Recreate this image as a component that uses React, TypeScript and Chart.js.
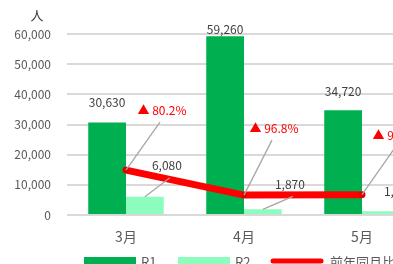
import React, { useEffect, useRef } from 'react';
import { Chart, registerables } from 'chart.js';

Chart.register(...registerables);

// ---- data ----
const categories = ['3月', '4月', '5月'];
const r1Values = [30630, 59260, 34720];
const r2Values = [6080, 1870, 1220];
const yoyValues = [-80.2, -96.8, -96.5];
const seriesLabels = ['R1', 'R2', '前年同月比'];
const yAxisTitle = '人';
const yMax = 60000;
const yStep = 10000;

// ---- style ----
const FONT = "'Noto Sans CJK JP', 'Noto Sans', sans-serif";
const C_R1 = '#00B050';
const C_R2 = '#8CFDBC';
const C_LINE = '#FF0000';
const C_TEXT = '#595959';
const C_LABEL = '#404040';
const C_GRID = '#D9D9D9';
const C_LEADER = '#A6A6A6';
const CANVAS_W = 440;
const CANVAS_H = 290;

// label offsets relative to the mark anchor (px)
const r1LabelOffsets = [[0, -20], [0, -7], [0, -19]];
const r2LabelOffsets = [[22, -31], [27, -25], [18, -20]];
const r2Leaders = [true, true, false];
const yoyLabelOffsets = [[36, -60], [30, -67], [35, -59]];

const fmt = (v: number) => v.toLocaleString('en-US');
const fmtYoy = (v: number) => (v < 0 ? '▲ ' : '') + Math.abs(v).toFixed(1) + '%';

const overlayPlugin = {
  id: 'overlay',
  afterDatasetsDraw(chart: any) {
    const ctx = chart.ctx as CanvasRenderingContext2D;
    const m0 = chart.getDatasetMeta(0);
    const m1 = chart.getDatasetMeta(1);
    const m2 = chart.getDatasetMeta(2);
    ctx.save();
    // leader lines
    ctx.strokeStyle = C_LEADER;
    ctx.lineWidth = 1.3;
    m1.data.forEach((el: any, i: number) => {
      if (!r2Leaders[i]) return;
      const [dx, dy] = r2LabelOffsets[i];
      ctx.beginPath();
      ctx.moveTo(el.x, el.y);
      ctx.lineTo(el.x + dx + 3, el.y + dy + 12);
      ctx.stroke();
    });
    m2.data.forEach((el: any, i: number) => {
      const [dx, dy] = yoyLabelOffsets[i];
      ctx.beginPath();
      ctx.moveTo(el.x, el.y);
      ctx.lineTo(el.x + dx - 2, el.y + dy + 12);
      ctx.stroke();
    });
    // value labels
    ctx.font = `12px ${FONT}`;
    ctx.textAlign = 'center';
    ctx.textBaseline = 'middle';
    ctx.fillStyle = C_LABEL;
    m0.data.forEach((el: any, i: number) => {
      const [dx, dy] = r1LabelOffsets[i];
      ctx.fillText(fmt(r1Values[i]), el.x + dx, el.y + dy);
    });
    m1.data.forEach((el: any, i: number) => {
      const [dx, dy] = r2LabelOffsets[i];
      ctx.fillText(fmt(r2Values[i]), el.x + dx, el.y + dy);
    });
    ctx.fillStyle = C_LINE;
    m2.data.forEach((el: any, i: number) => {
      const [dx, dy] = yoyLabelOffsets[i];
      ctx.fillText(fmtYoy(yoyValues[i]), el.x + dx, el.y + dy);
    });
    ctx.restore();
  },
  afterDraw(chart: any) {
    const ctx = chart.ctx as CanvasRenderingContext2D;
    const area = chart.chartArea;
    ctx.save();
    // axis title
    ctx.font = `13px ${FONT}`;
    ctx.fillStyle = C_LABEL;
    ctx.textAlign = 'center';
    ctx.textBaseline = 'middle';
    ctx.fillText(yAxisTitle, area.left - 30, area.top - 19);
    // legend
    const ly = area.bottom + 46;
    ctx.font = `13px ${FONT}`;
    ctx.textAlign = 'left';
    ctx.fillStyle = C_R1;
    ctx.fillRect(84, ly - 4, 52, 9);
    ctx.fillStyle = C_TEXT;
    ctx.fillText(seriesLabels[0], 141, ly + 1);
    ctx.fillStyle = C_R2;
    ctx.fillRect(178, ly - 4, 52, 9);
    ctx.fillStyle = C_TEXT;
    ctx.fillText(seriesLabels[1], 235, ly + 1);
    ctx.strokeStyle = C_LINE;
    ctx.lineWidth = 5;
    ctx.lineCap = 'round';
    ctx.beginPath();
    ctx.moveTo(273, ly);
    ctx.lineTo(321, ly);
    ctx.stroke();
    ctx.fillStyle = C_TEXT;
    ctx.fillText(seriesLabels[2], 330, ly + 1);
    ctx.restore();
  },
};

export default function App() {
  const ref = useRef<HTMLCanvasElement>(null);
  useEffect(() => {
    if (!ref.current) return;
    Chart.defaults.font.family = FONT;
    const chart = new Chart(ref.current, {
      type: 'bar',
      data: {
        labels: categories,
        datasets: [
          {
            type: 'bar',
            label: seriesLabels[0],
            data: r1Values,
            backgroundColor: C_R1,
            yAxisID: 'y',
            order: 2,
            categoryPercentage: 0.64,
            barPercentage: 1,
          },
          {
            type: 'bar',
            label: seriesLabels[1],
            data: r2Values,
            backgroundColor: C_R2,
            yAxisID: 'y',
            order: 2,
            categoryPercentage: 0.64,
            barPercentage: 1,
          },
          {
            type: 'line',
            label: seriesLabels[2],
            data: yoyValues,
            borderColor: C_LINE,
            backgroundColor: C_LINE,
            borderWidth: 7,
            borderCapStyle: 'round',
            borderJoinStyle: 'round',
            pointRadius: 3,
            pointBorderWidth: 0,
            pointBackgroundColor: '#E00000',
            yAxisID: 'y2',
            order: 0,
          } as any,
        ],
      },
      options: {
        animation: false,
        responsive: false,
        devicePixelRatio: 1,
        layout: { padding: { left: 0, top: 34, right: 19, bottom: 45 } },
        plugins: {
          legend: { display: false },
          tooltip: { enabled: false },
        },
        scales: {
          x: {
            grid: { display: false, drawTicks: false },
            border: { display: false },
            ticks: { color: C_TEXT, font: { size: 14, family: FONT }, padding: 13 },
            afterFit: (s: any) => { s.height = 30; },
          },
          y: {
            min: 0,
            max: yMax,
            position: 'left',
            grid: { color: C_GRID, lineWidth: 2, drawTicks: false },
            border: { display: false },
            ticks: {
              stepSize: yStep,
              color: C_TEXT,
              font: { size: 12, family: FONT },
              padding: 16,
              callback: (v: any) => fmt(Number(v)),
            },
            afterFit: (s: any) => { s.width = 67; },
          },
          y2: {
            min: -110,
            max: 10,
            display: false,
          },
        },
      },
      plugins: [overlayPlugin],
    } as any);
    return () => chart.destroy();
  }, []);
  return (
    <div style={{ position: 'fixed', left: 0, top: 0, width: 393, height: 264, overflow: 'hidden', background: '#fff' }}>
      <canvas ref={ref} width={CANVAS_W} height={CANVAS_H} style={{ display: 'block', width: CANVAS_W, height: CANVAS_H }} />
    </div>
  );
}
